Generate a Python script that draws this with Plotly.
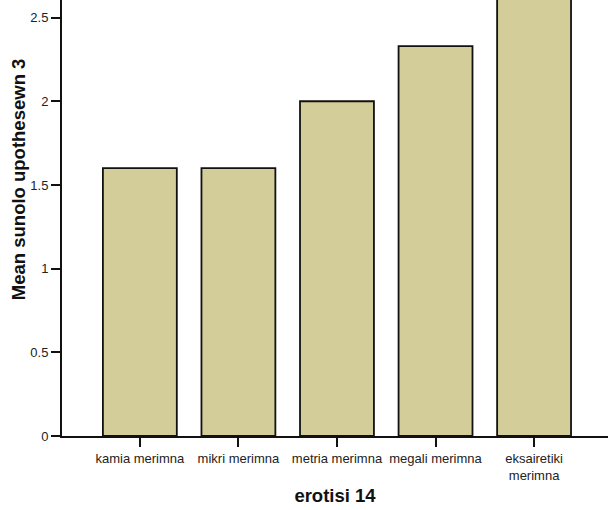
import plotly.graph_objects as go

categories = ["kamia merimna", "mikri merimna", "metria merimna", "megali merimna", "eksairetiki<br>merimna"]
means = [1.6, 1.6, 2.0, 2.33, 2.75]
y_ticks = [0, 0.5, 1, 1.5, 2, 2.5]
y_tick_labels = ["0", "0.5", "1", "1.5", "2", "2.5"]
x_title = "erotisi 14"
y_title = "Mean sunolo upothesewn 3"

fig = go.Figure(go.Bar(
    x=categories, y=means, width=0.75,
    marker=dict(color="#D3CD99", line=dict(color="#111111", width=1.8)),
))

fig.update_layout(
    width=608, height=510,
    margin=dict(l=62, r=0, t=0, b=74),
    paper_bgcolor="white", plot_bgcolor="white",
    font=dict(family="Arial, Liberation Sans", size=13, color="#222222"),
    showlegend=False,
)
fig.update_xaxes(
    range=[-0.79, 4.75], showline=True, linecolor="#111111", linewidth=2,
    ticks="outside", ticklen=9, tickcolor="#111111", tickwidth=2,
    showgrid=False, zeroline=False,
    title=dict(text="<b>" + x_title + "</b>", font=dict(size=18.5, color="#111111"), standoff=8),
)
fig.update_yaxes(
    range=[0, 2.605], showline=True, linecolor="#111111", linewidth=2,
    ticks="outside", ticklen=9, tickcolor="#111111", tickwidth=2,
    tickvals=y_ticks, ticktext=y_tick_labels,
    showgrid=False, zeroline=False,
)
fig.add_annotation(
    text="<b>" + y_title + "</b>", textangle=-90,
    xref="paper", yref="paper", x=-0.0806, y=0.589,
    xanchor="center", yanchor="middle", showarrow=False,
    font=dict(size=18.5, color="#111111"),
)

fig.write_html(
    "out.html",
    config={"displayModeBar": False},
    post_script="document.body.style.margin='0';document.body.style.padding='0';",
)
